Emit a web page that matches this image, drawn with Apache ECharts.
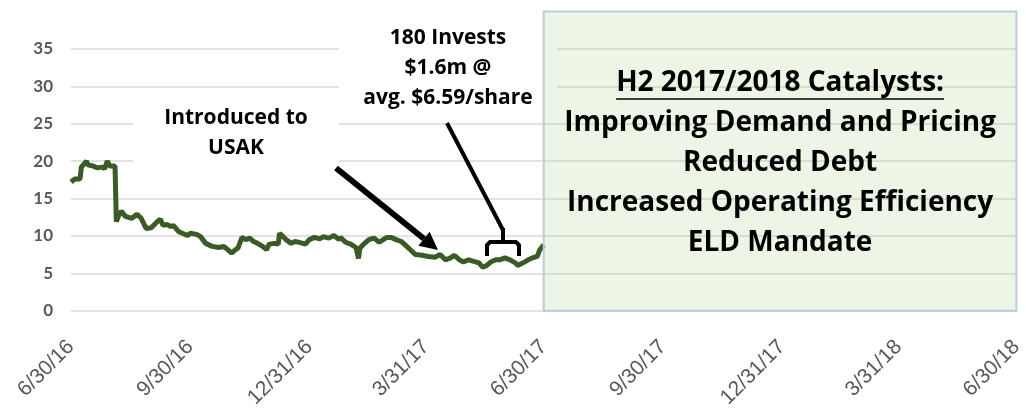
<!DOCTYPE html>
<html>
<head>
<meta charset="utf-8">
<script src="https://cdn.jsdelivr.net/npm/echarts@6/dist/echarts.min.js"></script>
<style>
  html, body { margin: 0; padding: 0; background: #fff; }
  #main { width: 1026px; height: 411px; }
</style>
</head>
<body>
<div id="main"></div>
<script>
// USAK share price
var dates = [
  '2016-06-30','2016-07-03','2016-07-07','2016-07-08','2016-07-12','2016-07-13','2016-07-17','2016-07-20',
  '2016-07-24','2016-07-26','2016-07-28','2016-07-30','2016-08-03','2016-08-04','2016-08-06','2016-08-08',
  '2016-08-11','2016-08-16','2016-08-20','2016-08-23','2016-08-27','2016-08-31','2016-09-04','2016-09-07',
  '2016-09-09','2016-09-12','2016-09-15','2016-09-17','2016-09-21','2016-09-24','2016-09-28','2016-09-30',
  '2016-10-05','2016-10-08','2016-10-12','2016-10-17','2016-10-22','2016-10-26','2016-10-29','2016-11-01',
  '2016-11-04','2016-11-06','2016-11-09','2016-11-12','2016-11-15','2016-11-18','2016-11-21','2016-11-25',
  '2016-11-28','2016-11-30','2016-12-04','2016-12-07','2016-12-08','2016-12-10','2016-12-13','2016-12-17',
  '2016-12-20','2016-12-24','2016-12-28','2016-12-31','2017-01-04','2017-01-08','2017-01-11','2017-01-15',
  '2017-01-19','2017-01-23','2017-01-24','2017-01-28','2017-02-01','2017-02-05','2017-02-07','2017-02-08',
  '2017-02-11','2017-02-15','2017-02-19','2017-02-23','2017-02-27','2017-03-01','2017-03-04','2017-03-08',
  '2017-03-12','2017-03-15','2017-03-19','2017-03-23','2017-03-28','2017-04-02','2017-04-07','2017-04-11',
  '2017-04-15','2017-04-19','2017-04-22','2017-04-26','2017-04-29','2017-05-03','2017-05-07','2017-05-11',
  '2017-05-14','2017-05-17','2017-05-20','2017-05-24','2017-05-27','2017-05-31','2017-06-04','2017-06-08',
  '2017-06-10','2017-06-14','2017-06-18','2017-06-22','2017-06-25','2017-06-27','2017-06-30'
];
var prices = [
  17.2, 17.6, 17.6, 19.2, 20.0, 19.5, 19.35, 19.1,
  19.2, 19.0, 20.0, 19.35, 19.35, 11.9, 12.8, 13.3,
  12.6, 12.35, 12.9, 12.4, 11.0, 11.1, 11.8, 12.25,
  11.4, 11.55, 11.25, 11.4, 10.6, 10.35, 10.05, 10.35,
  10.2, 9.9, 9.0, 8.6, 8.45, 8.6, 8.15, 7.7,
  8.15, 8.4, 9.8, 9.5, 9.7, 9.25, 9.0, 8.6,
  8.15, 8.9, 9.0, 8.9, 10.35, 10.05, 9.5, 9.0,
  9.25, 9.1, 8.9, 9.5, 9.8, 9.6, 9.9, 9.7,
  10.05, 9.5, 9.8, 9.15, 8.9, 8.45, 7.0, 8.35,
  8.9, 9.5, 9.7, 9.15, 9.6, 9.8, 9.8, 9.5,
  9.25, 8.8, 8.15, 7.5, 7.4, 7.25, 7.15, 7.5,
  6.8, 7.05, 7.4, 6.8, 6.5, 6.8, 6.6, 6.4,
  5.8, 6.05, 6.5, 6.8, 6.8, 7.05, 6.8, 6.4,
  6.05, 6.4, 6.8, 7.1, 7.25, 8.15, 8.8
];
var tickDates = ['2016-06-30','2016-09-30','2016-12-31','2017-03-31','2017-06-30',
                 '2017-09-30','2017-12-31','2018-03-31','2018-06-30'];
var tickLabels = ['6/30/16','9/30/16','12/31/16','3/31/17','6/30/17',
                  '9/30/17','12/31/17','3/31/18','6/30/18'];
var catalystLines = ['H2 2017/2018 Catalysts:', 'Improving Demand and Pricing', 'Reduced Debt',
                     'Increased Operating Efficiency', 'ELD Mandate'];

var ts = function (d) { return echarts.time.parse(d).getTime(); };
var tickTimes = tickDates.map(ts);

var chart = echarts.init(document.getElementById('main'));

var option = {
  animation: false,
  grid: { left: 71, right: 7, top: 49, bottom: 98 },
  xAxis: {
    type: 'value',
    min: tickTimes[0],
    max: tickTimes[tickTimes.length - 1],
    axisLine: { show: false },
    axisTick: { show: false },
    splitLine: { show: false },
    axisLabel: {
      customValues: tickTimes,
      rotate: 45,
      margin: 33,
      hideOverlap: false,
      color: '#595959',
      fontFamily: 'Liberation Sans',
      fontSize: 21,
      formatter: function (v) {
        var i = tickTimes.indexOf(v);
        return i >= 0 ? tickLabels[i] : '';
      }
    }
  },
  yAxis: {
    type: 'value',
    min: 0, max: 35, interval: 5,
    axisLine: { show: false },
    axisTick: { show: false },
    splitLine: { lineStyle: { color: '#D9D9D9', width: 1.5 } },
    axisLabel: { color: '#595959', fontFamily: 'Lato', fontWeight: 'bold', fontSize: 17, margin: 18 }
  },
  series: [{
    type: 'line',
    data: dates.map(function (d, i) { return [ts(d), prices[i]]; }),
    showSymbol: false,
    lineStyle: { color: '#3A5B25', width: 5 },
    itemStyle: { color: '#3A5B25' },
    z: 3
  }]
};
chart.setOption(option);

// annotations
var els = [];
var FONT = 'Open Sans';
function arrow(x1, y1, x2, y2, w, headLen, headHalf) {
  var dx = x2 - x1, dy = y2 - y1, len = Math.sqrt(dx * dx + dy * dy);
  var ux = dx / len, uy = dy / len;
  var bx = x2 - ux * headLen, by = y2 - uy * headLen;
  els.push({ type: 'line', z: 50, shape: { x1: x1, y1: y1, x2: bx, y2: by },
             style: { stroke: '#000', lineWidth: w } });
  els.push({ type: 'polygon', z: 50,
             shape: { points: [[x2, y2], [bx - uy * headHalf, by + ux * headHalf], [bx + uy * headHalf, by - ux * headHalf]] },
             style: { fill: '#000' } });
}
function text(str, x, y, size) {
  els.push({ type: 'text', z: 60, x: x, y: y,
             style: { text: str, font: 'bold ' + size + 'px "' + FONT + '"', fill: '#000',
                      align: 'center', verticalAlign: 'middle' } });
}

// green catalyst box spanning 6/30/17 - 6/30/18
var pA = chart.convertToPixel({ gridIndex: 0 }, [tickTimes[4], 40]);
var pB = chart.convertToPixel({ gridIndex: 0 }, [tickTimes[8], 0]);
els.push({ type: 'rect', z: 40, shape: { x: pA[0], y: pA[1], width: pB[0] - pA[0], height: pB[1] - pA[1] },
           style: { fill: 'rgba(169,208,142,0.22)', stroke: '#BCCCDB', lineWidth: 2 } });
var cx = (pA[0] + pB[0]) / 2;
catalystLines.forEach(function (s, i) { text(s, cx, 83 + i * 40, 28); });
var ctx = document.createElement('canvas').getContext('2d');
ctx.font = 'bold 28px "' + FONT + '"';
var uw = ctx.measureText(catalystLines[0]).width;
els.push({ type: 'line', z: 60, shape: { x1: cx - uw / 2, y1: 99, x2: cx + uw / 2, y2: 99 },
           style: { stroke: '#000', lineWidth: 1.5 } });

// white label boxes
els.push({ type: 'rect', z: 30, shape: { x: 133, y: 96, width: 206, height: 80 }, style: { fill: '#fff' } });
els.push({ type: 'rect', z: 30, shape: { x: 339, y: 18, width: 218, height: 94 }, style: { fill: '#fff' } });
text('Introduced to', 236, 118, 21);
text('USAK', 236, 148, 21);
text('180 Invests', 448, 38, 21);
text('$1.6m @', 448, 68, 21);
text('avg. $6.59/share', 448, 98, 21);

// arrows
arrow(336, 168, 438, 250, 6, 18, 9);
els.push({ type: 'line', z: 50, shape: { x1: 447, y1: 123, x2: 503, y2: 230 }, style: { stroke: '#000', lineWidth: 4 } });
els.push({ type: 'polyline', z: 50,
           shape: { points: [[487, 256], [487, 245], [490, 242], [516, 242], [519, 245], [519, 256]] },
           style: { stroke: '#000', lineWidth: 4, fill: null } });
els.push({ type: 'line', z: 50, shape: { x1: 503, y1: 228, x2: 503, y2: 242 }, style: { stroke: '#000', lineWidth: 4 } });

chart.setOption({ graphic: { elements: els } });
</script>
</body>
</html>
